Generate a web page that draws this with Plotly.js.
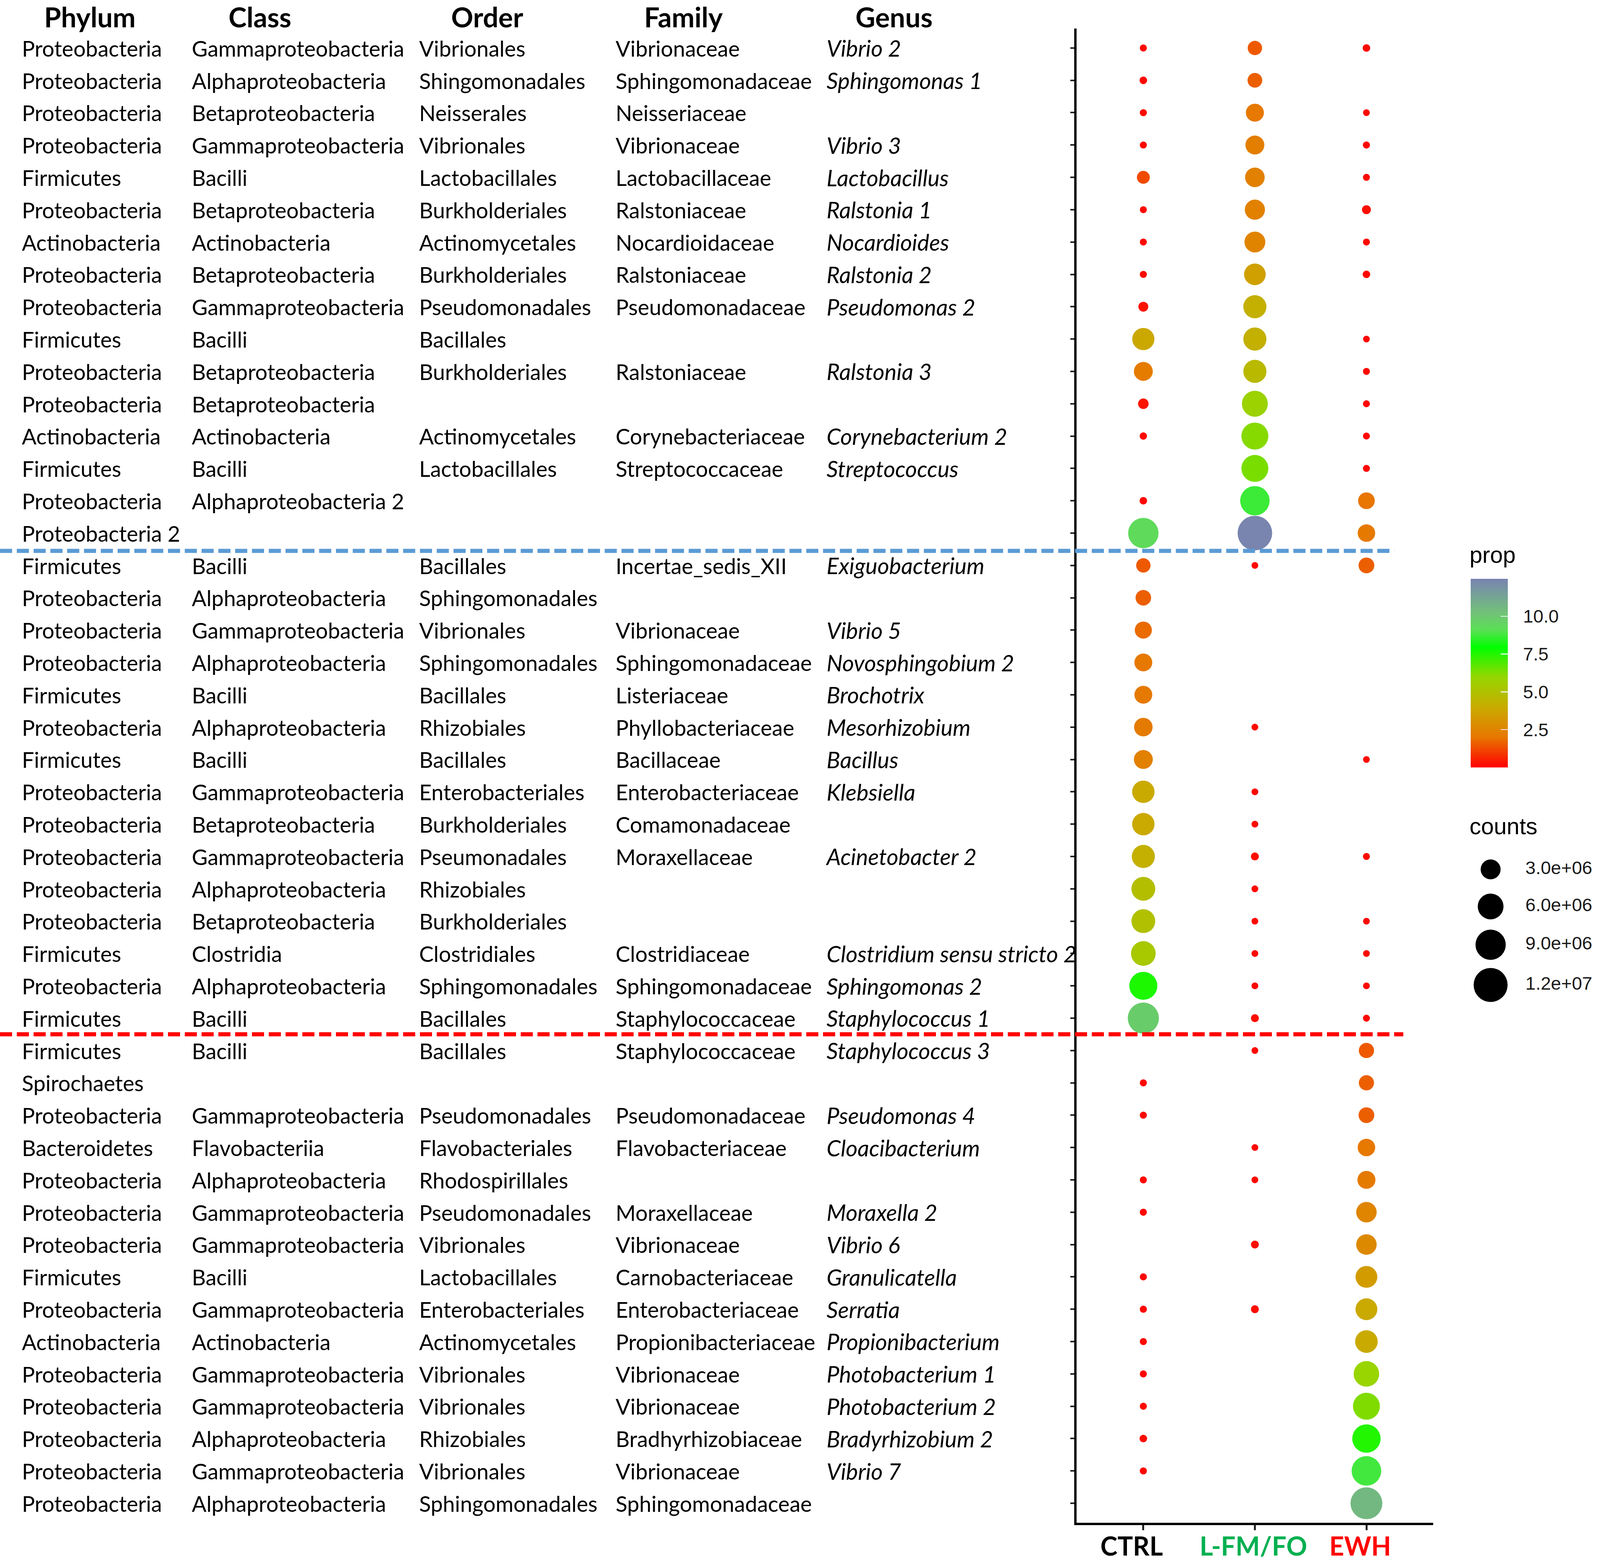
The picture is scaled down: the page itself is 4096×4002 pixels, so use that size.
<!DOCTYPE html>
<html>
<head>
<meta charset="utf-8">
<script src="https://cdn.plot.ly/plotly-3.0.1.min.js"></script>
<style>html,body{margin:0;padding:0;background:#fff;}#chart{width:4096px;height:4002px;}</style>
</head>
<body>
<div id="chart"></div>
<script>
// ---------------- data ----------------
const groups = ["CTRL", "L-FM/FO", "EWH"];
const groupSizes = [16, 15, 15];
const headers = ["Phylum", "Class", "Order", "Family", "Genus"];

const phylum = ["Proteobacteria","Proteobacteria","Proteobacteria","Proteobacteria","Firmicutes","Proteobacteria","Actinobacteria","Proteobacteria","Proteobacteria","Firmicutes","Proteobacteria","Proteobacteria","Actinobacteria","Firmicutes","Proteobacteria","Proteobacteria 2",
"Firmicutes","Proteobacteria","Proteobacteria","Proteobacteria","Firmicutes","Proteobacteria","Firmicutes","Proteobacteria","Proteobacteria","Proteobacteria","Proteobacteria","Proteobacteria","Firmicutes","Proteobacteria","Firmicutes",
"Firmicutes","Spirochaetes","Proteobacteria","Bacteroidetes","Proteobacteria","Proteobacteria","Proteobacteria","Firmicutes","Proteobacteria","Actinobacteria","Proteobacteria","Proteobacteria","Proteobacteria","Proteobacteria","Proteobacteria"];

const taxClass = ["Gammaproteobacteria","Alphaproteobacteria","Betaproteobacteria","Gammaproteobacteria","Bacilli","Betaproteobacteria","Actinobacteria","Betaproteobacteria","Gammaproteobacteria","Bacilli","Betaproteobacteria","Betaproteobacteria","Actinobacteria","Bacilli","Alphaproteobacteria 2","",
"Bacilli","Alphaproteobacteria","Gammaproteobacteria","Alphaproteobacteria","Bacilli","Alphaproteobacteria","Bacilli","Gammaproteobacteria","Betaproteobacteria","Gammaproteobacteria","Alphaproteobacteria","Betaproteobacteria","Clostridia","Alphaproteobacteria","Bacilli",
"Bacilli","","Gammaproteobacteria","Flavobacteriia","Alphaproteobacteria","Gammaproteobacteria","Gammaproteobacteria","Bacilli","Gammaproteobacteria","Actinobacteria","Gammaproteobacteria","Gammaproteobacteria","Alphaproteobacteria","Gammaproteobacteria","Alphaproteobacteria"];

const taxOrder = ["Vibrionales","Shingomonadales","Neisserales","Vibrionales","Lactobacillales","Burkholderiales","Actinomycetales","Burkholderiales","Pseudomonadales","Bacillales","Burkholderiales","","Actinomycetales","Lactobacillales","","",
"Bacillales","Sphingomonadales","Vibrionales","Sphingomonadales","Bacillales","Rhizobiales","Bacillales","Enterobacteriales","Burkholderiales","Pseumonadales","Rhizobiales","Burkholderiales","Clostridiales","Sphingomonadales","Bacillales",
"Bacillales","","Pseudomonadales","Flavobacteriales","Rhodospirillales","Pseudomonadales","Vibrionales","Lactobacillales","Enterobacteriales","Actinomycetales","Vibrionales","Vibrionales","Rhizobiales","Vibrionales","Sphingomonadales"];

const taxFamily = ["Vibrionaceae","Sphingomonadaceae","Neisseriaceae","Vibrionaceae","Lactobacillaceae","Ralstoniaceae","Nocardioidaceae","Ralstoniaceae","Pseudomonadaceae","","Ralstoniaceae","","Corynebacteriaceae","Streptococcaceae","","",
"Incertae_sedis_XII","","Vibrionaceae","Sphingomonadaceae","Listeriaceae","Phyllobacteriaceae","Bacillaceae","Enterobacteriaceae","Comamonadaceae","Moraxellaceae","","","Clostridiaceae","Sphingomonadaceae","Staphylococcaceae",
"Staphylococcaceae","","Pseudomonadaceae","Flavobacteriaceae","","Moraxellaceae","Vibrionaceae","Carnobacteriaceae","Enterobacteriaceae","Propionibacteriaceae","Vibrionaceae","Vibrionaceae","Bradhyrhizobiaceae","Vibrionaceae","Sphingomonadaceae"];

const taxGenus = ["Vibrio 2","Sphingomonas 1","","Vibrio 3","Lactobacillus","Ralstonia 1","Nocardioides","Ralstonia 2","Pseudomonas 2","","Ralstonia 3","","Corynebacterium 2","Streptococcus","","",
"Exiguobacterium","","Vibrio 5","Novosphingobium 2","Brochotrix","Mesorhizobium","Bacillus","Klebsiella","","Acinetobacter 2","","","Clostridium sensu stricto 2","Sphingomonas 2","Staphylococcus 1",
"Staphylococcus 3","","Pseudomonas 4","Cloacibacterium","","Moraxella 2","Vibrio 6","Granulicatella","Serratia","Propionibacterium","Photobacterium 1","Photobacterium 2","Bradyrhizobium 2","Vibrio 7",""];

// prop (colour) and counts (size) per group, null = no point
const ctrlProp = [0.1,0.1,0.1,0.1,1.25,0.1,0.1,0.1,0.3,3.85,2.2,0.35,0.1,null,0.1,9.3,
1.5,1.6,1.8,2.05,2.1,2.15,2.35,3.95,3.9,4.2,4.85,4.95,5.3,7.6,9.8,
null,0.1,0.1,null,0.1,0.1,null,0.1,0.1,0.1,0.1,0.1,0.15,0.1,null];
const ctrlCounts = [2e4,4e4,2e4,1.7e4,7.4e5,1.7e4,1.7e4,2e4,2.35e5,4.04e6,2.57e6,3.2e5,3e4,null,4e4,9.1e6,
1.08e6,1.41e6,1.9e6,2.17e6,2.17e6,2.43e6,2.57e6,4.14e6,4.14e6,4.5e6,4.88e6,4.88e6,5.37e6,7.44e6,9.72e6,
null,2e4,2e4,null,2e4,2e4,null,2e4,2e4,2e4,2e4,2e4,4e4,2e4,null];

const lfmProp = [1.5,1.6,2.05,2.3,2.35,2.4,2.5,3.56,4.2,4.2,4.6,5.8,6.17,6.36,8.7,12.4,
0.1,null,null,null,null,0.1,null,0.1,0.1,0.2,0.1,0.1,0.1,0.1,0.2,
0.1,null,null,0.1,0.1,null,0.2,null,0.2,null,null,null,null,null,null];
const lfmCounts = [1.08e6,1.17e6,2.23e6,2.57e6,2.85e6,3.08e6,3.4e6,3.76e6,4.5e6,4.5e6,4.5e6,6.09e6,6.75e6,6.75e6,8.42e6,1.25e7,
1e4,null,null,null,null,1e4,null,1e4,1e4,6e4,1e4,1e4,1e4,1e4,6e4,
1e4,null,null,1e4,1e4,null,6e4,null,6e4,null,null,null,null,null,null];

const ewhProp = [0.1,null,0.1,0.1,0.1,0.2,0.1,0.1,null,0.1,0.1,0.1,0.1,0.1,2.0,2.1,
1.6,null,null,null,null,null,0.1,null,null,0.1,null,0.1,0.1,0.1,0.1,
1.5,1.6,1.6,2.05,2.15,2.55,2.7,3.4,3.9,3.95,5.9,6.27,7.5,8.8,10.55];
const ewhCounts = [4e4,null,1e4,2e4,1.7e4,1.35e5,1.7e4,4e4,null,1e4,1.7e4,1.7e4,1.7e4,1.7e4,1.77e6,2.04e6,
1.47e6,null,null,null,null,null,1e4,null,null,1.7e4,null,1e4,1e4,1e4,1.7e4,
1.31e6,1.31e6,1.47e6,2.04e6,2.23e6,3.23e6,3.23e6,3.85e6,3.85e6,4.23e6,5.88e6,6.75e6,7.68e6,8.54e6,1.027e7];

const propTicks = [2.5, 5.0, 7.5, 10.0];
const countBreaks = [3e6, 6e6, 9e6, 1.2e7];
const countLabels = ["3.0e+06", "6.0e+06", "9.0e+06", "1.2e+07"];

// ---------------- styles / layout constants ----------------
const W = 4096, H = 4002, S = 0.897;
const plotL = 2755.6, plotR = 3669.4, plotT = 73.2, plotB = 3898.7;
const textDrop = 8;                                  // table text sits a few px below the dot rows
const colX = [56, 491, 1073, 1576, 2116];           // left edges of table columns (px)
const headX = [230, 665, 1247, 1749, 2289];         // header centres (px)
const TXT = "Lato, 'Open Sans', sans-serif";
const ARIAL = "'Liberation Sans', Arial, sans-serif";
const groupColors = ["#000000", "#00B050", "#FF0000"];
const groupShift = [-30, -4, -16];
const sepColors = ["#5B9BD5", "#FF0000"];
const sepNudge = [0.05, 0.0];
const pMin = 0, pMax = 12.48;
const colorscale = [
  [0, "#FF0000"], [0.159, "#E87600"], [0.3185, "#C9AB00"], [0.478, "#97D600"],
  [0.637, "#00FF00"], [0.728, "#5AE054"], [0.819, "#72C178"], [0.909, "#75A396"], [1, "#7983B0"]
];
function sizeOf(c) { return S * (17 + 40 * Math.sqrt(c / 3e6)); }   // size scale

// ---------------- build traces ----------------
const nRows = phylum.length;
const rowY = phylum.map((_, i) => i + 1);
const propSets = [ctrlProp, lfmProp, ewhProp];
const countSets = [ctrlCounts, lfmCounts, ewhCounts];
const px = [], py = [], pc = [], ps = [];
groups.forEach((g, gi) => {
  for (let i = 0; i < nRows; i++) {
    if (propSets[gi][i] === null) continue;
    px.push(g); py.push(rowY[i]); pc.push(propSets[gi][i]); ps.push(sizeOf(countSets[gi][i]));
  }
});

const cbBase = {
  x: 3765 / W, xanchor: "left", y: 1 - 1723.3 / H, yanchor: "middle",
  len: 482.5, lenmode: "pixels", thickness: 95, thicknessmode: "pixels",
  xpad: 0, ypad: 0, outlinewidth: 0, tickvals: propTicks,
  ticktext: propTicks.map(v => v.toFixed(1)), title: {text: ""}
};

const traces = [];
traces.push({
  type: "scatter", mode: "markers", x: px, y: py, xaxis: "x", yaxis: "y",
  marker: {
    color: pc, size: ps, sizemode: "diameter", colorscale: colorscale, cmin: pMin, cmax: pMax,
    line: {width: 0}, opacity: 1, showscale: true,
    colorbar: Object.assign({}, cbBase, {
      ticks: "outside", ticklen: 30, tickcolor: "rgba(0,0,0,0)",
      tickfont: {family: ARIAL, size: 47, color: "#1a1a1a"}
    })
  },
  hoverinfo: "skip"
});
// overlay colour bar that carries the white inside ticks
traces.push({
  type: "scatter", mode: "markers", x: [null], y: [null], xaxis: "x", yaxis: "y",
  marker: {
    color: [pMin], colorscale: colorscale, cmin: pMin, cmax: pMax, showscale: true,
    colorbar: Object.assign({}, cbBase, {
      ticks: "inside", ticklen: 18, tickwidth: 2.5, tickcolor: "rgba(255,255,255,0.85)",
      showticklabels: false
    })
  },
  hoverinfo: "skip"
});

// taxonomy table as text traces on a row axis matching the dot rows
const cols = [phylum, taxClass, taxOrder, taxFamily, taxGenus];
cols.forEach((arr, ci) => {
  traces.push({
    type: "scatter", mode: "text", xaxis: "x2", yaxis: "y2",
    x: arr.map(() => colX[ci]), y: rowY, text: arr,
    textposition: "middle right", cliponaxis: false,
    textfont: {family: TXT, size: ci === 4 ? 58 : 55.5, color: "#000", style: ci === 4 ? "italic" : "normal"},
    hoverinfo: "skip"
  });
});

// size legend (counts) on a pixel-space helper axis
const legY = [2226, 2321, 2419, 2522];
traces.push({
  type: "scatter", mode: "markers", xaxis: "x3", yaxis: "y3",
  x: countBreaks.map(() => 3816), y: legY,
  marker: {color: "#000", size: countBreaks.map(sizeOf), line: {width: 0}, opacity: 1},
  hoverinfo: "skip"
});
traces.push({
  type: "scatter", mode: "text", xaxis: "x3", yaxis: "y3",
  x: countLabels.map(() => 3905), y: legY, text: countLabels,
  textposition: "middle right", cliponaxis: false,
  textfont: {family: ARIAL, size: 47, color: "#1a1a1a"}, hoverinfo: "skip"
});
traces.push({
  type: "scatter", mode: "text", xaxis: "x3", yaxis: "y3",
  x: [3762, 3762], y: [1426, 2121], text: ["prop", "counts"],
  textposition: "middle right", cliponaxis: false,
  textfont: {family: ARIAL, size: 59, color: "#000"}, hoverinfo: "skip"
});

// ---------------- shapes & annotations ----------------
const sepEnds = [3979 * S / W, 4005 * S / W];
const shapes = [];
let cum = 0;
for (let k = 0; k < groupSizes.length - 1; k++) {
  cum += groupSizes[k];
  shapes.push({
    type: "line", xref: "paper", yref: "y", x0: 0, x1: sepEnds[k],
    y0: cum + 0.5 + sepNudge[k], y1: cum + 0.5 + sepNudge[k],
    line: {color: sepColors[k], width: 10.5, dash: "31px,12px"}, layer: "above"
  });
}

const annotations = [];
headers.forEach((h, i) => {
  annotations.push({
    text: "<b>" + h + "</b>", xref: "paper", yref: "paper", x: headX[i] / W, y: 1 - 43 / H,
    xanchor: "center", yanchor: "middle", showarrow: false,
    font: {family: TXT, size: 70, color: "#000"}
  });
});
groups.forEach((g, i) => {
  annotations.push({
    text: "<b>" + g + "</b>", xref: "x", yref: "paper", x: g, y: 1 - 3957 / H,
    xshift: groupShift[i], xanchor: "center", yanchor: "middle", showarrow: false,
    font: {family: TXT, size: 66, color: groupColors[i]}
  });
});

const layout = {
  width: W, height: H, margin: {l: 0, r: 0, t: 0, b: 0, pad: 0},
  paper_bgcolor: "#fff", plot_bgcolor: "rgba(0,0,0,0)", showlegend: false,
  xaxis: {
    domain: [plotL / W, plotR / W], type: "category", categoryorder: "array", categoryarray: groups,
    range: [-0.6, 2.6], showgrid: false, zeroline: false, showline: true, linecolor: "#000", linewidth: 6,
    ticks: "outside", ticklen: 13, tickwidth: 5, tickcolor: "#222", showticklabels: false,
    anchor: "y", fixedrange: true
  },
  yaxis: {
    domain: [1 - plotB / H, 1 - plotT / H], range: [nRows + 0.6, 0.4], tickmode: "array", tickvals: rowY,
    showgrid: false, zeroline: false, showline: true, linecolor: "#000", linewidth: 6,
    ticks: "outside", ticklen: 10, tickwidth: 4, tickcolor: "#222", showticklabels: false,
    anchor: "x", fixedrange: true
  },
  xaxis2: {domain: [0, plotL / W], range: [0, plotL], visible: false, anchor: "y2", fixedrange: true},
  yaxis2: {
    domain: [1 - (plotB + textDrop) / H, 1 - (plotT + textDrop) / H], range: [nRows + 0.6, 0.4],
    visible: false, anchor: "x2", fixedrange: true
  },
  xaxis3: {domain: [plotR / W, 1], range: [plotR, W], visible: false, anchor: "y3", fixedrange: true},
  yaxis3: {domain: [0, 1], range: [H, 0], visible: false, anchor: "x3", fixedrange: true},
  shapes: shapes, annotations: annotations
};

Plotly.newPlot("chart", traces, layout, {staticPlot: true, displayModeBar: false});
</script>
</body>
</html>
